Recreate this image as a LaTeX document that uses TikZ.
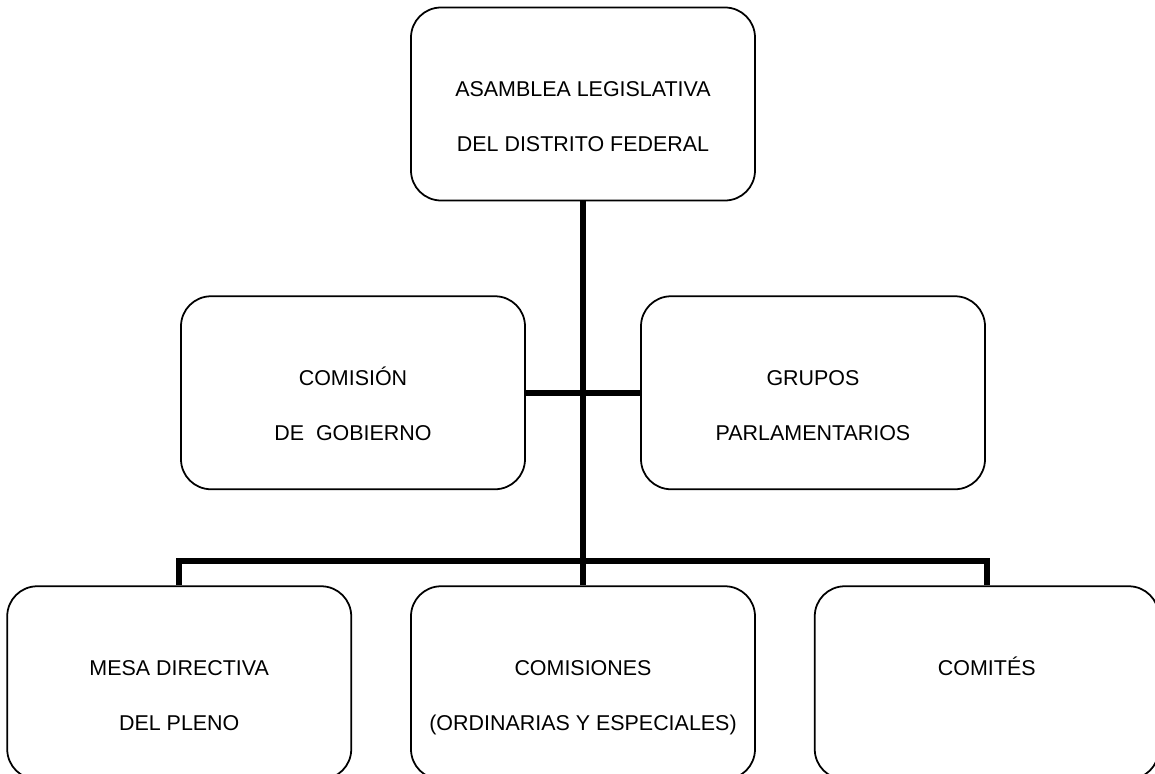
\documentclass[tikz,border=0pt]{standalone}
\usepackage{fontspec}
\setmainfont{Liberation Sans}
\usetikzlibrary{positioning}

% two text lines, first baseline at a fixed depth below the top of the box
\newcommand{\boxlines}[2]{\parbox[c][3.86cm][t]{6.88cm}{\centering
    \fontsize{12.2}{31.2}\selectfont\rule{0pt}{1.79cm}#1\\#2}}

\begin{document}
\begin{tikzpicture}[line width=1pt,
    orgbox/.style={rectangle, rounded corners=0.6cm, draw, inner sep=0pt},
    conn/.style={line width=3.4pt}]
        \useasboundingbox (-11.66,2.08) rectangle (11.44,-13.4);

        \node [orgbox] (asamblea) at (0,0) {\boxlines{ASAMBLEA LEGISLATIVA}{DEL DISTRITO FEDERAL}};
        \node [orgbox, below=1.88cm of asamblea, xshift=-4.6cm] (gobierno) {\boxlines{COMISIÓN}{DE\ \ GOBIERNO}};
        \node [orgbox, below=1.88cm of asamblea, xshift=4.6cm] (grupos) {\boxlines{GRUPOS}{PARLAMENTARIOS}};

        \node [orgbox, below=7.68cm of asamblea] (comisiones) {\boxlines{COMISIONES}{(ORDINARIAS Y ESPECIALES)}};
        \node [orgbox, left=1.16cm of comisiones] (mesa) {\boxlines{MESA DIRECTIVA}{DEL PLENO}};
        \node [orgbox, right=1.16cm of comisiones] (comites) {\boxlines{COMITÉS}{}};

        \draw [conn] (asamblea.south) -- (comisiones.north);
        \draw [conn] (gobierno.east) -- (grupos.west);
        \draw [conn] (mesa.north) -- ++(0,0.48) -| (comites.north);
    \end{tikzpicture}
\end{document}
